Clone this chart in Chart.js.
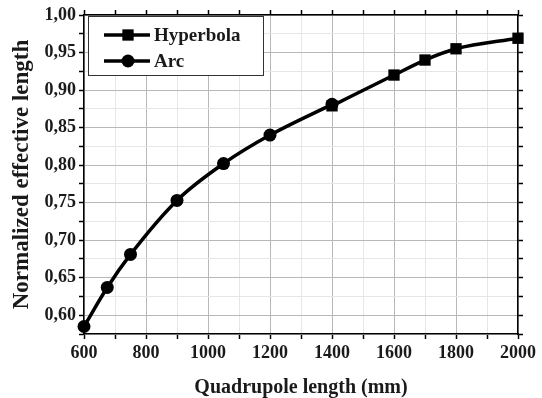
<!DOCTYPE html>
<html>
<head>
<meta charset="utf-8">
<script src="https://cdn.jsdelivr.net/npm/chart.js@4.4.0/dist/chart.umd.min.js"></script>
<style>
  html, body { margin: 0; padding: 0; background: #fff; }
  #wrap { width: 542px; height: 398px; }
</style>
</head>
<body>
<div id="wrap"><canvas id="mychart" width="542" height="398"></canvas></div>
<script>
// data
const arcX = [600, 675, 750, 900, 1050, 1200, 1400]
const arcY = [0.585, 0.637, 0.681, 0.753, 0.802, 0.840, 0.881]
const hypX = [1400, 1600, 1700, 1800, 2000]
const hypY = [0.879, 0.920, 0.940, 0.955, 0.969]
const seriesNames = ['Hyperbola', 'Arc']
const xTitle = 'Quadrupole length (mm)'
const yTitle = 'Normalized effective length'

const serif = "'Liberation Serif', 'Times New Roman', serif"
const tickFont = { family: serif, size: 18, weight: 'bold' }

function toPoints(xs, ys) {
    return xs.map(function (x, i) { return { x: x, y: ys[i] } })
}

function isMajorX(v) { return Math.round(v) % 200 === 0 }
function isMajorY(v) { return Math.round(v * 1000) % 50 === 0 }

// legend drawn inside the plot, top left
const boxLegend = {
    id: 'boxLegend',
    afterDraw(chart) {
        const ctx = chart.ctx
        const a = chart.chartArea
        const x0 = a.left + 4, y0 = a.top + 1, w = 175, h = 59
        ctx.save()
        ctx.fillStyle = '#fff'
        ctx.fillRect(x0, y0, w, h)
        ctx.strokeStyle = '#333'
        ctx.lineWidth = 1
        ctx.strokeRect(x0 + 0.5, y0 + 0.5, w, h)
        const styles = ['rect', 'circle']
        for (let i = 0; i < 2; i++) {
            const y = y0 + 19 + i * 26
            ctx.strokeStyle = '#000'
            ctx.lineWidth = 3.5
            ctx.beginPath()
            ctx.moveTo(x0 + 16, y)
            ctx.lineTo(x0 + 62, y)
            ctx.stroke()
            ctx.fillStyle = '#000'
            Chart.helpers.drawPoint(ctx, { pointStyle: styles[i], radius: styles[i] === 'rect' ? 8 : 6.5, borderWidth: 0 }, x0 + 40, y)
            ctx.fillStyle = '#1a1a1a'
            ctx.font = 'bold 19px ' + serif
            ctx.textBaseline = 'middle'
            ctx.textAlign = 'left'
            ctx.fillText(seriesNames[i], x0 + 66, y + 1)
        }
        ctx.restore()
    }
}

const canvasforchart = document.getElementById('mychart')
new Chart(canvasforchart, {
    type: 'line',
    data: {
        datasets: [{
            label: seriesNames[0],
            data: toPoints(hypX, hypY),
            borderColor: '#000',
            backgroundColor: '#000',
            borderWidth: 3.5,
            pointStyle: 'rect',
            pointRadius: 8,
            pointBorderWidth: 0,
            cubicInterpolationMode: 'monotone',
            xAxisID: 'x',
            yAxisID: 'y'
        }, {
            label: seriesNames[1],
            data: toPoints(arcX, arcY),
            borderColor: '#000',
            backgroundColor: '#000',
            borderWidth: 3.5,
            pointStyle: 'circle',
            pointRadius: 6.5,
            pointBorderWidth: 0,
            cubicInterpolationMode: 'monotone',
            xAxisID: 'x',
            yAxisID: 'y'
        }]
    },
    options: {
        responsive: false,
        animation: false,
        clip: false,
        layout: { padding: 0 },
        plugins: {
            legend: { display: false },
            tooltip: { enabled: false }
        },
        scales: {
            x: {
                type: 'linear',
                position: 'bottom',
                min: 600,
                max: 2000,
                ticks: {
                    stepSize: 100,
                    autoSkip: false,
                    maxRotation: 0,
                    color: '#1a1a1a',
                    font: tickFont,
                    padding: 4,
                    callback: function (v) { return isMajorX(v) ? String(v) : '' }
                },
                grid: {
                    color: function (c) { return isMajorX(c.tick.value) ? '#b8b8b8' : '#e6e6e6' },
                    lineWidth: 1,
                    tickColor: '#000',
                    tickLength: 5,
                    tickWidth: 1.5
                },
                border: { display: true, color: '#000', width: 1.5 },
                title: {
                    display: true,
                    text: xTitle,
                    color: '#1a1a1a',
                    font: { family: serif, size: 20, weight: 'bold' },
                    padding: { top: 8, bottom: -2 }
                },
                afterFit: function (s) { s.height = 64 }
            },
            xTop: {
                type: 'linear',
                position: 'top',
                min: 600,
                max: 2000,
                ticks: { stepSize: 100, autoSkip: false, callback: function () { return '' } },
                grid: { drawOnChartArea: false, tickColor: '#000', tickLength: 5, tickWidth: 1.5 },
                border: { display: true, color: '#000', width: 1.5 },
                afterFit: function (s) { s.height = 15 }
            },
            y: {
                type: 'linear',
                position: 'left',
                min: 0.575,
                max: 1.0,
                ticks: {
                    stepSize: 0.025,
                    autoSkip: false,
                    color: '#1a1a1a',
                    font: tickFont,
                    padding: 3,
                    callback: function (v) { return isMajorY(v) ? v.toFixed(2).replace('.', ',') : '' }
                },
                grid: {
                    color: function (c) { return isMajorY(c.tick.value) ? '#b8b8b8' : '#e6e6e6' },
                    lineWidth: 1,
                    tickColor: '#000',
                    tickLength: 5,
                    tickWidth: 1.5
                },
                border: { display: true, color: '#000', width: 1.5 },
                title: {
                    display: true,
                    text: yTitle,
                    color: '#1a1a1a',
                    font: { family: serif, size: 23, weight: 'bold' },
                    padding: { top: 8, bottom: 4 }
                },
                afterFit: function (s) { s.width = 84 }
            },
            yRight: {
                type: 'linear',
                position: 'right',
                min: 0.575,
                max: 1.0,
                ticks: { stepSize: 0.025, autoSkip: false, callback: function () { return '' } },
                grid: { drawOnChartArea: false, tickColor: '#000', tickLength: 5, tickWidth: 1.5 },
                border: { display: true, color: '#000', width: 1.5 },
                afterFit: function (s) { s.width = 24 }
            }
        }
    },
    plugins: [boxLegend]
})
</script>
</body>
</html>
